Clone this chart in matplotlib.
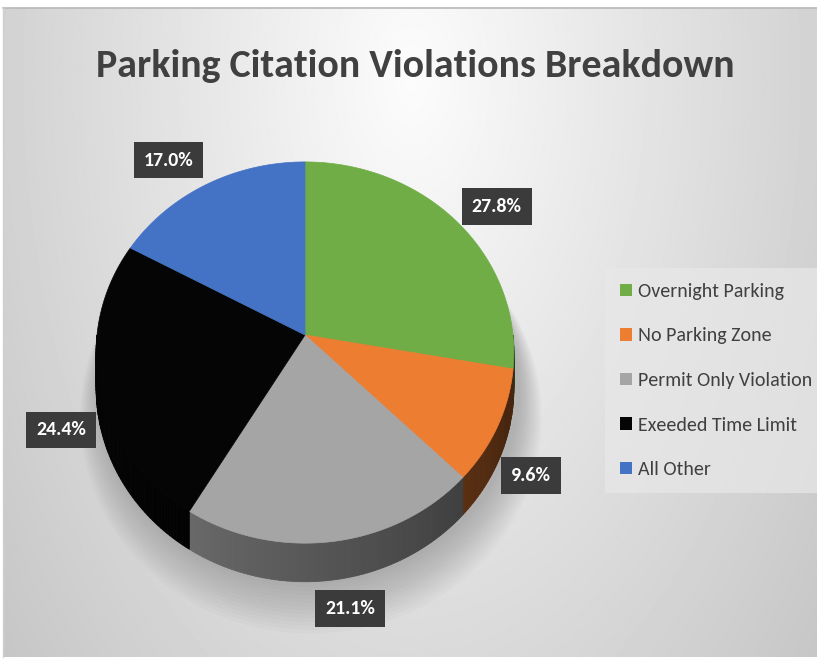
import numpy as np
import matplotlib
matplotlib.use("Agg")
import matplotlib.pyplot as plt
from matplotlib.patches import Polygon, Patch
from matplotlib import font_manager

# data
categories = ["Overnight Parking", "No Parking Zone", "Permit Only Violation",
              "Exeeded Time Limit", "All Other"]
shares = [27.8, 9.6, 21.1, 24.4, 17.0]
colors = ["#70AD47", "#ED7D31", "#A5A5A5", "#050505", "#4472C4"]
title = "Parking Citation Violations Breakdown"

# layout (pixels)
W, H = 817, 660
CX, CY = 305, 335
RX, RY = 208, 189
PERSP = 0.092
DEPTH = 35
label_nudge = [(6, 13), (-18, 25), (8, 9), (15, 31), (-16, 10)]


def pick_font(names):
    for n in names:
        try:
            font_manager.findfont(font_manager.FontProperties(family=n),
                                  fallback_to_default=False)
            return n
        except ValueError:
            continue
    return "DejaVu Sans"


FONT = pick_font(["Carlito", "Lato", "Roboto", "Open Sans"])
FAM = [FONT, "DejaVu Sans"]


def project(theta, r=1.0, z=0.0):
    u = r * np.cos(theta)
    v = r * np.sin(theta)
    w = 1 + PERSP * v
    return CX + RX * u / w, CY - RY * v / w + DEPTH * z / w


def shade(color, f):
    rgb = np.array(matplotlib.colors.to_rgb(color))
    return tuple(np.clip(rgb * f, 0, 1))


def fit_width(fig, txt, target):
    r = fig.canvas.get_renderer()
    w = txt.get_window_extent(r).width
    txt.set_fontsize(txt.get_fontsize() * target / w)


fig = plt.figure(figsize=(W / 100, H / 100), dpi=100)
fig.patch.set_facecolor("white")
ax = fig.add_axes([0, 0, 1, 1])
ax.set_xlim(0, W)
ax.set_ylim(H, 0)
ax.axis("off")

# radial background
yy, xx = np.mgrid[0:H, 0:W]
rr = np.sqrt(((xx - 410) / 430.0) ** 2 + ((yy - 70) / 760.0) ** 2)
bg = np.clip(252 - 44 * rr, 196, 255) / 255.0
ax.imshow(bg, cmap="gray", vmin=0, vmax=1, extent=(3, W, H - 3, 8),
          zorder=0, aspect="auto")
ax.plot([3, W], [8, 8], color="#b8b8b8", lw=1.2, zorder=1)
ax.plot([3, 3], [8, H - 3], color="#d0d0d0", lw=1, zorder=1)

# soft shadow under the pie
full = np.linspace(0, 2 * np.pi, 300)
for i in range(14):
    sx, sy = project(full, r=1.0 + 0.008 * i, z=1.0 + 0.05 * i)
    ax.add_patch(Polygon(np.column_stack([sx + 6, sy + 2]), closed=True,
                         fc="black", ec="none", alpha=0.016, zorder=2))

# slice bounds, clockwise from 12 o'clock
total = sum(shares)
bounds = 90 - 360 * np.concatenate([[0], np.cumsum(shares)]) / total

# side walls (front half only)
for i, c in enumerate(colors):
    a0, a1 = bounds[i + 1], bounds[i]
    lo, hi = max(a0, -180), min(a1, 0)
    if lo >= hi:
        continue
    steps = np.linspace(lo, hi, max(3, int(hi - lo)))
    for s0, s1 in zip(steps[:-1], steps[1:]):
        t = np.radians([s0, s1])
        tx, ty = project(t)
        bx, by = project(t, z=1.0)
        mid = 0.5 * (s0 + s1)
        f = np.clip(0.40 + 0.0033 * (-mid - 50), 0.3, 0.75)
        col = shade(c, f)
        pts = [(tx[0], ty[0]), (tx[1], ty[1]), (bx[1], by[1]), (bx[0], by[0])]
        ax.add_patch(Polygon(pts, closed=True, fc=col, ec=col, lw=0.6, zorder=3))

# top faces
for i, c in enumerate(colors):
    t = np.radians(np.linspace(bounds[i], bounds[i + 1], 200))
    px, py = project(t)
    pts = np.vstack([[CX, CY], np.column_stack([px, py])])
    ax.add_patch(Polygon(pts, closed=True, fc=c, ec=c, lw=0.5, zorder=4))

# data labels
for i, s in enumerate(shares):
    mid = np.radians(0.5 * (bounds[i] + bounds[i + 1]))
    lx, ly = project(mid, r=1.25)
    lx += label_nudge[i][0]
    ly += label_nudge[i][1]
    t = ax.text(lx, ly, f"{s:.1f}%", ha="center", va="center", color="white",
                fontsize=14, fontweight="bold", family=FAM, zorder=6,
                bbox=dict(boxstyle="square,pad=0.5", fc="#3b3b3b", ec="none"))
    if i == 0:
        fit_width(fig, t, 50)
        lab_size = t.get_fontsize()
    else:
        t.set_fontsize(lab_size)

# title
tt = ax.text(415, 77, title, ha="center", va="baseline", color="#404040",
             fontsize=30, fontweight="bold", family=FAM, zorder=6)
fit_width(fig, tt, 638)

# legend
probe = ax.text(0, 0, categories[0], family=FAM, fontsize=12)
fit_width(fig, probe, 145)
leg_size = probe.get_fontsize()
probe.remove()

handles = [Patch(facecolor=c, edgecolor="none") for c in colors]
leg = ax.legend(handles, categories, loc="upper left",
                bbox_to_anchor=(605 / W, 1 - 268 / H),
                bbox_transform=fig.transFigure, frameon=True, borderaxespad=0,
                prop=dict(family=FAM, size=leg_size),
                handlelength=0.6, handleheight=0.6, handletextpad=0.3,
                labelspacing=1.38, borderpad=0.75, fancybox=False)
leg.get_frame().set_facecolor("#e8e8e8")
leg.get_frame().set_alpha(0.7)
leg.get_frame().set_edgecolor("none")
for txt in leg.get_texts():
    txt.set_color("#404040")
leg.set_zorder(6)

fig.savefig("out.png", dpi=100)
